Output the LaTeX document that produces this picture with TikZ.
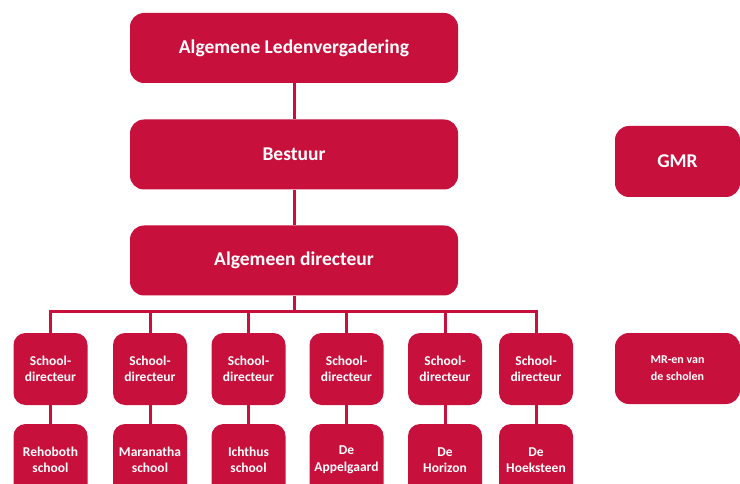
\documentclass[tikz,border=0pt]{standalone}
\usepackage{fontspec}
\setmainfont{Carlito}
\definecolor{crim}{RGB}{200,16,60}
\begin{document}
\begin{tikzpicture}[x=1pt,y=-1pt,
  box/.style={draw=none,fill=crim,text=white,font=\bfseries,rounded corners=14pt,inner sep=0pt,align=center},
  bigbox/.style={box,minimum width=328pt,minimum height=70pt,font=\fontsize{19.5}{22}\selectfont\bfseries},
  sidebox/.style={box,minimum width=125pt,minimum height=71pt},
  smallbox/.style={box,minimum width=74pt,minimum height=72pt,rounded corners=12pt,font=\fontsize{13.5}{16.5}\selectfont\bfseries},
  conn/.style={draw=crim,line width=3pt}]
\useasboundingbox (0,0) rectangle (740,484);
\clip (0,0) rectangle (740,484);
\node[bigbox] (alv) at (294,48) {Algemene Ledenvergadering};
\node[bigbox] (bes) at (294,154.5) {Bestuur};
\node[bigbox] (ad) at (294,260.5) {Algemeen directeur};
\node[sidebox,font=\fontsize{19.5}{22}\selectfont\bfseries] (gmr) at (677.5,161.5) {GMR};
\node[sidebox,font=\fontsize{12}{17}\selectfont\bfseries] (mr) at (677.5,368.5) {MR-en van\\de scholen};
\coordinate (bar) at (294,311);
\foreach \i/\x/\t in {1/50.5/{Rehoboth\\school},2/150/{Maranatha\\school},3/248.5/{Ichthus\\school},4/346.5/{De\\Appelgaard},5/445/{De\\Horizon},6/536/{De\\Hoeksteen}}{
  \node[smallbox] (sd\i) at (\x,369) {School-\\directeur};
  \node[smallbox] (sc\i) at (\x,460) {\t};
  \draw[conn] (sd\i) -- (sc\i);
}
\draw[conn] (alv) -- (bes);
\draw[conn] (bes) -- (ad);
\draw[conn] (ad.south) -- (bar);
\draw[conn] (sd1.north) |- (bar) -| (sd6.north);
\foreach \i in {2,3,4,5}{\draw[conn] (sd\i.north) -- (sd\i.north |- bar);}
\end{tikzpicture}
\end{document}
